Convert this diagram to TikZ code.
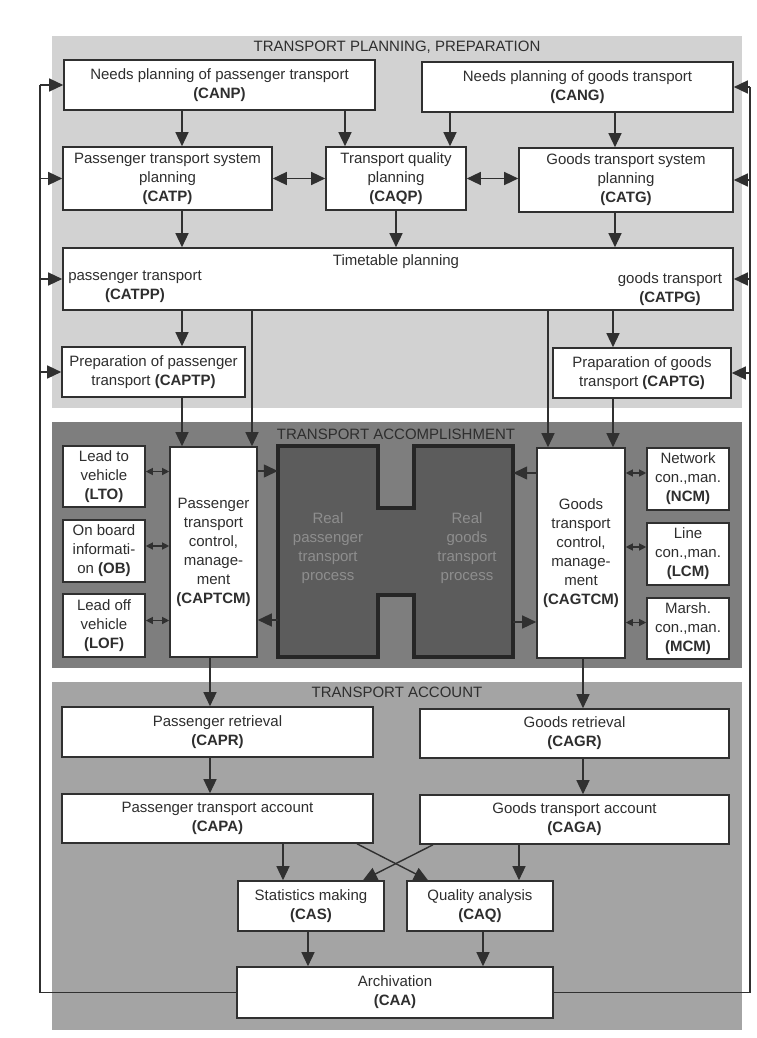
\documentclass[tikz,border=0pt]{standalone}
\usepackage{fontspec}
\setmainfont{Liberation Sans}
\usetikzlibrary{arrows.meta}
\definecolor{bgplan}{HTML}{D2D2D2}
\definecolor{bgacc}{HTML}{7E7E7E}
\definecolor{bgaccount}{HTML}{A4A4A4}
\definecolor{hfill}{HTML}{5C5C5C}
\definecolor{htext}{HTML}{8E8E8E}
\definecolor{linec}{HTML}{303030}
\definecolor{txtc}{HTML}{2E2E2E}
\tikzset{
  box/.style={draw=linec, fill=white, line width=1.6pt, inner sep=0pt, align=center,
    text=txtc, font=\fontsize{15}{19}\selectfont},
  lbl/.style={inner sep=0pt, align=center, text=txtc, font=\fontsize{15}{19}\selectfont},
  ttl/.style={inner sep=0pt, text=txtc, font=\fontsize{15}{18}\selectfont},
  conn/.style={draw=linec, line width=1.4pt},
  arr/.style={conn, -{Triangle[length=14pt,width=13pt]}},
  dbl/.style={conn, {Triangle[length=14pt,width=13pt]}-{Triangle[length=14pt,width=13pt]}},
  sdbl/.style={conn, line width=1.2pt, {Triangle[length=7pt,width=7pt]}-{Triangle[length=7pt,width=7pt]}},
}
\newcommand\bx[6]{\node[box,minimum width=#4pt,minimum height=#5pt] (#1) at (#2,#3) {#6};}
\begin{document}
\begin{tikzpicture}[x=1pt,y=-1pt]
\useasboundingbox (0,0) rectangle (756,1038);
% section backgrounds
\fill[bgplan] (52,36) rectangle (742,408);
\fill[bgacc] (52,422) rectangle (742,668);
\fill[bgaccount] (52,682) rectangle (742,1030);
\node[ttl] (t1) at (397,47) {TRANSPORT PLANNING, PREPARATION};
\node[ttl] (t2) at (396,434) {TRANSPORT ACCOMPLISHMENT};
\node[ttl] (t3) at (397,692) {TRANSPORT ACCOUNT};
% column coordinates
\coordinate (fbL) at (40,0);
\coordinate (fbR) at (750,0);
\foreach \n/\v in {x182/182,x345/345,x450/450,x615/615,x396/396,x613/613,x252/252,x548/548,
  x210/210,x583/583,x283/283,x519/519,x357/357,x428/428,x433/433,x363/363,x308/308,x483/483}
  {\coordinate (\n) at (\v,0);}
\foreach \n/\v in {yA/471,yB/620,yC/473,yD/622}{\coordinate (\n) at (0,\v);}
% planning boxes
\bx{CANP}{219.5}{85}{311}{50}{Needs planning of passenger transport\\\textbf{(CANP)}}
\bx{CANG}{577.5}{87}{311}{50}{Needs planning of goods transport\\\textbf{(CANG)}}
\bx{CATP}{167.5}{178.5}{209}{63}{Passenger transport system\\planning\\\textbf{(CATP)}}
\bx{CAQP}{396}{178.5}{140}{63}{Transport quality\\planning\\\textbf{(CAQP)}}
\bx{CATG}{626}{180}{214}{64}{Goods transport system\\planning\\\textbf{(CATG)}}
\bx{TT}{398}{279}{670}{62}{}
\node[lbl] (TTt) at (396,262) {Timetable planning};
\node[lbl] (TTp) at (135,287) {passenger transport\\\textbf{(CATPP)}};
\node[lbl] (TTg) at (670,289.5) {goods transport\\\textbf{(CATPG)}};
\bx{CAPTP}{153.5}{372}{183}{50}{Preparation of passenger\\transport \textbf{(CAPTP)}}
\bx{CAPTG}{642}{373}{178}{50}{Praparation of goods\\transport \textbf{(CAPTG)}}
% accomplishment
\bx{LTO}{104}{476.5}{82}{61}{Lead to\\vehicle\\\textbf{(LTO)}}
\bx{OB}{104}{551}{82}{62}{On board\\informati-\\on \textbf{(OB)}}
\bx{LOF}{104}{625.5}{82}{63}{Lead off\\vehicle\\\textbf{(LOF)}}
\bx{CAPTCM}{213.5}{552}{87}{210}{Passenger\\transport\\control,\\manage-\\ment\\\textbf{(CAPTCM)}}
\bx{CAGTCM}{581}{553}{88}{210}{Goods\\transport\\control,\\manage-\\ment\\\textbf{(CAGTCM)}}
\bx{NCM}{688}{479}{82}{62}{Network\\con.,man.\\\textbf{(NCM)}}
\bx{LCM}{688}{554}{82}{62}{Line\\con.,man.\\\textbf{(LCM)}}
\bx{MCM}{688}{628.5}{82}{61}{Marsh.\\con.,man.\\\textbf{(MCM)}}
\node[inner sep=0pt, minimum width=235pt, minimum height=211pt] (H) at (395.5,551.5) {};
\draw[fill=hfill, line width=4pt, draw=black!85, line join=miter]
  (278,446) -- (378,446) -- (378,508) -- (414,508) -- (414,446) -- (513,446)
  -- (513,657) -- (414,657) -- (414,595) -- (378,595) -- (378,657) -- (278,657) -- cycle;
\node[lbl, text=htext] (Hp) at (328,548) {Real\\passenger\\transport\\process};
\node[lbl, text=htext] (Hg) at (467,548) {Real\\goods\\transport\\process};
% account
\bx{CAPR}{217.5}{732}{311}{50}{Passenger retrieval\\\textbf{(CAPR)}}
\bx{CAPA}{217.5}{818.5}{311}{49}{Passenger transport account\\\textbf{(CAPA)}}
\bx{CAGR}{574.5}{733.5}{309}{49}{Goods retrieval\\\textbf{(CAGR)}}
\bx{CAGA}{574.5}{819.5}{309}{49}{Goods transport account\\\textbf{(CAGA)}}
\bx{CAS}{311}{906}{146}{50}{Statistics making\\\textbf{(CAS)}}
\bx{CAQ}{480}{906}{146}{50}{Quality analysis\\\textbf{(CAQ)}}
\bx{CAA}{395}{992.5}{316}{51}{Archivation\\\textbf{(CAA)}}
% feedback loops
\draw[conn] (CANP.west -| fbL) -- (CAA.west -| fbL) -- (CAA.west);
\draw[conn] (CANG.east -| fbR) -- (CAA.east -| fbR) -- (CAA.east);
\foreach \b in {CANP,CATP,TT,CAPTP}{\draw[arr] (\b.west -| fbL) -- (\b.west);}
\foreach \b in {CANG,CATG,TT,CAPTG}{\draw[arr] (\b.east -| fbR) -- (\b.east);}
% planning connectors
\draw[arr] (CANP.south -| x182) -- (CATP.north -| x182);
\draw[arr] (CANP.south -| x345) -- (CAQP.north -| x345);
\draw[arr] (CANG.south -| x450) -- (CAQP.north -| x450);
\draw[arr] (CANG.south -| x615) -- (CATG.north -| x615);
\draw[dbl] (CATP.east) -- (CAQP.west);
\draw[dbl] (CAQP.east) -- (CAQP.east -| CATG.west);
\draw[arr] (CATP.south -| x182) -- (TT.north -| x182);
\draw[arr] (CAQP.south) -- (TT.north -| CAQP.south);
\draw[arr] (CATG.south -| x615) -- (TT.north -| x615);
\draw[arr] (TT.south -| x182) -- (CAPTP.north -| x182);
\draw[arr] (TT.south -| x613) -- (CAPTG.north -| x613);
\draw[arr] (TT.south -| x252) -- (CAPTCM.north -| x252);
\draw[arr] (TT.south -| x548) -- (CAGTCM.north -| x548);
\draw[arr] (CAPTP.south -| x182) -- (CAPTCM.north -| x182);
\draw[arr] (CAPTG.south -| x613) -- (CAGTCM.north -| x613);
% accomplishment connectors
\draw[sdbl] ([yshift=5pt]LTO.east) -- ([yshift=5pt]LTO.east -| CAPTCM.west);
\draw[sdbl] ([yshift=5pt]OB.east) -- ([yshift=5pt]OB.east -| CAPTCM.west);
\draw[sdbl] ([yshift=5pt]LOF.east) -- ([yshift=5pt]LOF.east -| CAPTCM.west);
\draw[sdbl] ([yshift=6pt]NCM.west) -- ([yshift=6pt]NCM.west -| CAGTCM.east);
\draw[sdbl] ([yshift=7pt]LCM.west) -- ([yshift=7pt]LCM.west -| CAGTCM.east);
\draw[sdbl] ([yshift=6pt]MCM.west) -- ([yshift=6pt]MCM.west -| CAGTCM.east);
\draw[arr] (CAPTCM.east |- yA) -- (H.west |- yA);
\draw[arr] (H.west |- yB) -- (CAPTCM.east |- yB);
\draw[arr] (CAGTCM.west |- yC) -- (H.east |- yC);
\draw[arr] (H.east |- yD) -- (CAGTCM.west |- yD);
% account connectors
\draw[arr] (CAPTCM.south -| x210) -- (CAPR.north -| x210);
\draw[arr] (CAPR.south -| x210) -- (CAPA.north -| x210);
\draw[arr] (CAGTCM.south -| x583) -- (CAGR.north -| x583);
\draw[arr] (CAGR.south -| x583) -- (CAGA.north -| x583);
\draw[arr] (CAPA.south -| x283) -- (CAS.north -| x283);
\draw[arr] (CAGA.south -| x519) -- (CAQ.north -| x519);
\draw[arr] (CAPA.south -| x357) -- (CAQ.north -| x428);
\draw[arr] (CAGA.south -| x433) -- (CAS.north -| x363);
\draw[arr] (CAS.south -| x308) -- (CAA.north -| x308);
\draw[arr] (CAQ.south -| x483) -- (CAA.north -| x483);
\end{tikzpicture}
\end{document}
